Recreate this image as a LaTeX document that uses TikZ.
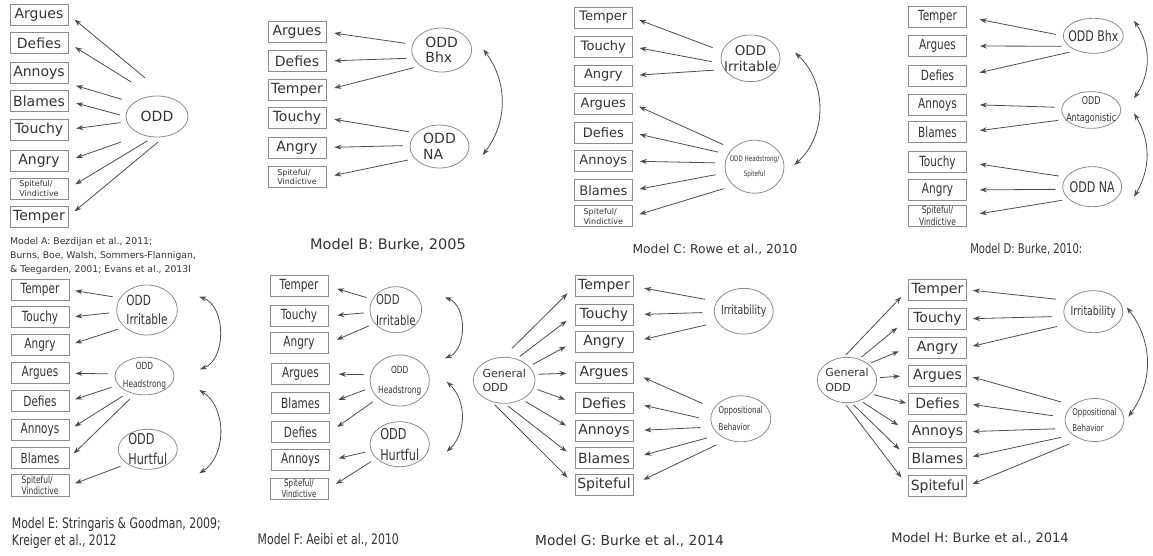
\documentclass[tikz,border=0pt]{standalone}
\usepackage{fontspec}
\setmainfont{DejaVu Sans}
\newfontfamily\condfont[FakeStretch=0.75]{DejaVu Sans}
\usepackage{xcolor}
\usepackage{tikz}
\usetikzlibrary{arrows.meta,shapes.geometric}

\definecolor{ln}{HTML}{4D4D4D}
\definecolor{edge}{HTML}{8C8C8C}
\definecolor{txt}{HTML}{333333}
\newcommand{\regsz}[2]{\fontsize{#1}{#2}\selectfont}
\newcommand{\condsz}[2]{\condfont\fontsize{#1}{#2}\selectfont}

\begin{document}
\begin{tikzpicture}[x=1pt,y=-1pt,>={Stealth[length=7pt,width=5pt]}]
\tikzstyle{box}=[draw=edge,line width=0.8pt,minimum width=58pt,minimum height=21pt,inner sep=1pt,text=txt]
\tikzstyle{fac}=[draw=edge,line width=0.8pt,ellipse,inner sep=-6pt,text=txt]
\tikzstyle{ld}=[->,draw=ln,line width=0.8pt]
\tikzstyle{cor}=[<->,draw=ln,line width=0.8pt]
\tikzstyle{capt}=[text=txt,inner sep=0pt]
\useasboundingbox (0,0) rectangle (1153,556);

% Model A
\begin{scope}[box/.append style={font=\regsz{14}{16}},ld/.append style={shorten >=8pt}]
\node[box] (aArgues) at (39,14.5) {Argues};
\node[box] (aDefies) at (39,43) {Defies};
\node[box] (aAnnoys) at (39,72.5) {Annoys};
\node[box] (aBlames) at (39,101) {Blames};
\node[box] (aTouchy) at (39,129.5) {Touchy};
\node[box] (aAngry) at (39,160.5) {Angry};
\node[box,align=left,font=\regsz{8}{9.5}] (aSpite) at (39,188.5) {Spiteful/\\Vindictive};
\node[box] (aTemper) at (39,216.5) {Temper};
\node[fac,minimum width=62pt,minimum height=41pt,font=\regsz{14}{16}] (aODD) at (157,116.5) {ODD};
\draw[ld,shorten <=30pt] (aODD.60) -- (aArgues.east);
\draw[ld,shorten <=26pt] (aODD.100) -- (aDefies.east);
\draw[ld,shorten <=12pt] (aODD.150) -- (aAnnoys.south east);
\draw[ld,shorten <=6pt] (aODD.180) -- (aBlames.east);
\draw[ld,shorten <=6pt] (aODD.190) -- (aTouchy.east);
\draw[ld,shorten <=22pt] (aODD.230) -- (aAngry.east);
\draw[ld,shorten <=7pt] (aODD.260) -- (aSpite.east);
\draw[ld,shorten <=8pt] (aODD.290) -- (aTemper.east);
\node[capt,anchor=west,align=left,font=\regsz{9.3}{14}] (capA) at (10,256) {Model A: Bezdijan et al., 2011;\\Burns, Boe, Walsh, Sommers-Flannigan,\\\& Teegarden, 2001; Evans et al., 2013l};
\end{scope}

% Model B
\begin{scope}[box/.append style={font=\regsz{14}{16}},ld/.append style={shorten <=7pt,shorten >=8pt}]
\node[box] (bArgues) at (297,32) {Argues};
\node[box] (bDefies) at (297,61) {Defies};
\node[box] (bTemper) at (297,90) {Temper};
\node[box] (bTouchy) at (297,118) {Touchy};
\node[box] (bAngry) at (297,147.5) {Angry};
\node[box,align=left,font=\regsz{8}{9.5}] (bSpite) at (297,177) {Spiteful/\\Vindictive};
\node[fac,minimum width=60pt,minimum height=44pt,align=left,font=\regsz{14}{15.6}] (bBhx) at (441.7,50) {ODD\\Bhx};
\node[fac,minimum width=59pt,minimum height=43pt,align=left,font=\regsz{14}{15.6}] (bNA) at (439.5,146.5) {ODD\\NA};
\draw[ld] (bBhx.169) -- (bArgues.east);
\draw[ld] (bBhx.196) -- (bDefies.east);
\draw[ld] (bBhx.217) -- (bTemper.east);
\draw[ld] (bNA.150) -- (bTouchy.east);
\draw[ld] (bNA.178) -- (bAngry.east);
\draw[ld] (bNA.206) -- (bSpite.east);
\coordinate (bTop) at (483.3,49.3);
\coordinate (bBot) at (482.7,155);
\draw[cor] (bTop) to[bend left=37] (bBot);
\node[capt,font=\regsz{14.5}{16}] (capB) at (388,245) {Model B: Burke, 2005};
\end{scope}

% Model C
\begin{scope}[box/.append style={font=\regsz{13}{15}},ld/.append style={shorten <=10pt,shorten >=7pt}]
\node[box] (cTemper) at (603.3,17.5) {Temper};
\node[box] (cTouchy) at (603.3,46.7) {Touchy};
\node[box] (cAngry) at (603.3,75.5) {Angry};
\node[box] (cArgues) at (603.3,103.7) {Argues};
\node[box] (cDefies) at (603.3,132.8) {Defies};
\node[box] (cAnnoys) at (603.3,161.2) {Annoys};
\node[box] (cBlames) at (603.3,190.3) {Blames};
\node[box,align=left,font=\regsz{8}{9.5}] (cSpite) at (603.3,216.3) {Spiteful/\\Vindictive};
\node[fac,minimum width=59pt,minimum height=46.7pt,align=center,font=\regsz{13.5}{15.7}] (cIrr) at (750.5,58.3) {ODD\\Irritable};
\node[fac,minimum width=59pt,minimum height=53pt,align=center,font=\condsz{7.5}{15}] (cHead) at (754.5,166.7) {ODD Headstrong/\\Spiteful};
\draw[ld] (cIrr.166) -- (cTemper.east);
\draw[ld] (cIrr.190) -- (cTouchy.east);
\draw[ld] (cIrr.203) -- (cAngry.east);
\draw[ld] (cHead.141) -- (cArgues.east);
\draw[ld] (cHead.155) -- (cDefies.east);
\draw[ld] (cHead.173) -- (cAnnoys.east);
\draw[ld] (cHead.192) -- (cBlames.east);
\draw[ld] (cHead.222) -- (cSpite.east);
\coordinate (cTop) at (795,52.7);
\coordinate (cBot) at (794.3,165);
\draw[cor] (cTop) to[bend left=48] (cBot);
\node[capt,font=\regsz{12.3}{14}] (capC) at (715,249.3) {Model C: Rowe et al., 2010};
\end{scope}

% Model D
\begin{scope}[box/.append style={font=\condsz{14}{16}},ld/.append style={shorten <=7pt,shorten >=13pt}]
\node[box] (dTemper) at (937.5,17) {Temper};
\node[box] (dArgues) at (937.5,46) {Argues};
\node[box] (dDefies) at (937.5,75.5) {Defies};
\node[box] (dAnnoys) at (937.5,104.5) {Annoys};
\node[box] (dBlames) at (937.5,132.2) {Blames};
\node[box] (dTouchy) at (937.5,162.2) {Touchy};
\node[box] (dAngry) at (937.5,190) {Angry};
\node[box,align=center,font=\condsz{10}{11.5}] (dSpite) at (937.5,215.8) {Spiteful/\\Vindictive};
\node[fac,minimum width=60pt,minimum height=35pt,font=\condsz{14.6}{16}] (dBhx) at (1093.3,35.8) {ODD Bhx};
\node[fac,minimum width=59pt,minimum height=36.7pt,align=center,font=\condsz{10.7}{16.7}] (dAnt) at (1091.2,110) {ODD\\Antagonistic};
\node[fac,minimum width=59pt,minimum height=40pt,font=\condsz{14.7}{16}] (dNA) at (1092.2,186.7) {ODD NA};
\draw[ld] (dBhx.180) -- (dTemper.east);
\draw[ld] (dBhx.203) -- (dArgues.east);
\draw[ld] (dBhx.221) -- (dDefies.east);
\draw[ld] (dAnt.175) -- (dAnnoys.east);
\draw[ld] (dAnt.200) -- (dBlames.east);
\draw[ld] (dNA.160) -- (dTouchy.east);
\draw[ld] (dNA.185) -- (dAngry.east);
\draw[ld] (dNA.208) -- (dSpite.east);
\coordinate (dTop) at (1134,20.7);
\coordinate (dMidA) at (1134,98.3);
\coordinate (dMidB) at (1134,113.3);
\coordinate (dBot) at (1134,196.7);
\draw[cor] (dTop) to[bend left=34] (dMidA);
\draw[cor] (dMidB) to[bend left=31] (dBot);
\node[capt,font=\condsz{13.4}{15}] (capD) at (1026.3,249.3) {Model D: Burke, 2010:};
\end{scope}

% Model E
\begin{scope}[box/.append style={font=\condsz{14}{16}},ld/.append style={shorten <=7pt,shorten >=6pt}]
\node[box] (eTemper) at (40,289.7) {Temper};
\node[box] (eTouchy) at (40,317.3) {Touchy};
\node[box] (eAngry) at (40,345) {Angry};
\node[box] (eArgues) at (40,373.3) {Argues};
\node[box] (eDefies) at (40,401.2) {Defies};
\node[box] (eAnnoys) at (40,429.7) {Annoys};
\node[box] (eBlames) at (40,457.8) {Blames};
\node[box,align=left,font=\condsz{10}{11.5}] (eSpite) at (40,485.5) {Spiteful/\\Vindictive};
\node[fac,minimum width=60.7pt,minimum height=50pt,align=left,font=\condsz{14}{19}] (eIrr) at (147,310) {ODD\\Irritable};
\node[fac,minimum width=59pt,minimum height=37.7pt,align=center,font=\condsz{9.9}{17.7}] (eHead) at (144.5,376) {ODD\\Headstrong};
\node[fac,minimum width=59pt,minimum height=40pt,align=left,font=\condsz{15}{20}] (eHurt) at (147.8,449.3) {ODD\\Hurtful};
\draw[ld] (eIrr.156) -- (eTemper.east);
\draw[ld] (eIrr.184) -- (eTouchy.east);
\draw[ld] (eIrr.217) -- (eAngry.east);
\draw[ld] (eHead.176) -- (eArgues.east);
\draw[ld] (eHead.199) -- (eDefies.east);
\draw[ld] (eHead.226) -- (eAnnoys.east);
\draw[ld] (eHead.242) -- (eBlames.east);
\draw[ld] (eHurt.215) -- (eSpite.east);
\coordinate (eTop) at (199.3,296.7);
\coordinate (eMidA) at (200,369.3);
\coordinate (eMidB) at (199.3,390);
\coordinate (eBot) at (199.3,473.3);
\draw[cor] (eTop) to[bend left=70] (eMidA);
\draw[cor] (eMidB) to[bend left=58] (eBot);
\node[capt,anchor=west,align=left,font=\condsz{14.5}{16.7}] (capE) at (11.7,533.3) {Model E: Stringaris \& Goodman, 2009;\\Kreiger et al., 2012};
\end{scope}

% Model F
\begin{scope}[box/.append style={font=\condsz{14}{16}},ld/.append style={shorten <=6pt,shorten >=9pt}]
\node[box] (fTemper) at (299,286.3) {Temper};
\node[box] (fTouchy) at (299,316) {Touchy};
\node[box] (fAngry) at (299,343.3) {Angry};
\node[box] (fArgues) at (300.5,374) {Argues};
\node[box] (fBlames) at (300.5,403) {Blames};
\node[box] (fDefies) at (300.5,432.2) {Defies};
\node[box] (fAnnoys) at (300.5,460.3) {Annoys};
\node[box,align=center,font=\condsz{9.5}{11}] (fSpite) at (299,488.8) {Spiteful/\\Vindictive};
\node[fac,minimum width=51.7pt,minimum height=46pt,align=left,font=\condsz{13.5}{21}] (fIrr) at (395.8,309.7) {ODD\\Irritable};
\node[fac,minimum width=59.3pt,minimum height=51pt,align=center,font=\condsz{9.9}{20}] (fHead) at (399.7,380.5) {ODD\\Headstrong};
\node[fac,minimum width=59.3pt,minimum height=45pt,align=left,font=\condsz{15}{21}] (fHurt) at (399.7,444.2) {ODD\\Hurtful};
\draw[ld] (fIrr.156) -- (fTemper.east);
\draw[ld] (fIrr.186) -- (fTouchy.east);
\draw[ld] (fIrr.213) -- (fAngry.east);
\draw[ld] (fHead.169) -- (fArgues.east);
\draw[ld] (fHead.194) -- (fBlames.east);
\draw[ld] (fHead.219) -- (fDefies.east);
\draw[ld] (fHurt.193) -- (fAnnoys.east);
\draw[ld] (fHurt.211) -- (fSpite.east);
\coordinate (fTop) at (445,297.3);
\coordinate (fMidA) at (445,358.3);
\coordinate (fMidB) at (446.7,381.7);
\coordinate (fBot) at (446.7,451.7);
\draw[cor] (fTop) to[bend left=68] (fMidA);
\draw[cor] (fMidB) to[bend left=47] (fBot);
\node[capt,font=\condsz{14.5}{16}] (capF) at (328.3,540) {Model F: Aeibi et al., 2010};
\end{scope}

% Model G
\begin{scope}[box/.append style={font=\regsz{14}{16}},ld/.append style={shorten <=12pt,shorten >=11pt}]
\node[box] (gTemper) at (604,286.3) {Temper};
\node[box] (gTouchy) at (604,314.7) {Touchy};
\node[box] (gAngry) at (604,341.7) {Angry};
\node[box] (gArgues) at (604,373) {Argues};
\node[box] (gDefies) at (604,403) {Defies};
\node[box] (gAnnoys) at (604,430.7) {Annoys};
\node[box] (gBlames) at (604,457.8) {Blames};
\node[box] (gSpite) at (604,484.5) {Spiteful};
\node[fac,minimum width=59pt,minimum height=45.7pt,font=\condsz{12.5}{14}] (gIrr) at (743.7,311.2) {Irritability};
\node[fac,minimum width=60pt,minimum height=46pt,align=left,font=\condsz{9.4}{16.7}] (gOpp) at (740.8,418.8) {Oppositional\\Behavior};
\node[fac,minimum width=61.7pt,minimum height=46pt,align=left,font=\regsz{11}{14.3}] (gGen) at (504.2,380.3) {General\\ODD};
\draw[ld] (gIrr.160) -- (gTemper.east);
\draw[ld] (gIrr.182) -- (gTouchy.east);
\draw[ld] (gIrr.203) -- (gAngry.east);
\draw[ld] (gOpp.159) -- (gArgues.east);
\draw[ld] (gOpp.183) -- (gDefies.east);
\draw[ld] (gOpp.196) -- (gAnnoys.east);
\draw[ld] (gOpp.216) -- (gBlames.east);
\draw[ld] (gOpp.237) -- (gSpite.east);
\draw[ld,shorten <=12pt,shorten >=10pt] (gGen.92) -- (gTemper.west);
\draw[ld,shorten <=4pt,shorten >=10pt] (gGen.60) -- (gTouchy.west);
\draw[ld,shorten <=4pt,shorten >=10pt] (gGen.29) -- (gAngry.west);
\draw[ld,shorten <=4pt,shorten >=8pt] (gGen.11) -- (gArgues.west);
\draw[ld,shorten <=4pt,shorten >=10pt] (gGen.345) -- (gDefies.west);
\draw[ld,shorten <=4pt,shorten >=10pt] (gGen.313) -- (gAnnoys.west);
\draw[ld,shorten <=4pt,shorten >=10pt] (gGen.272) -- (gBlames.west);
\draw[ld,shorten <=4pt,shorten >=10pt] (gGen.240) -- (gSpite.west);
\node[capt,font=\regsz{13.8}{16}] (capG) at (629.5,541) {Model G: Burke et al., 2014};
\end{scope}

% Model H
\begin{scope}[box/.append style={font=\regsz{14}{16}},ld/.append style={shorten <=12pt,shorten >=6pt}]
\node[box] (hTemper) at (937.5,289.7) {Temper};
\node[box] (hTouchy) at (937.5,318.8) {Touchy};
\node[box] (hAngry) at (937.5,347.5) {Angry};
\node[box] (hArgues) at (937.5,375.5) {Argues};
\node[box] (hDefies) at (937.5,403.7) {Defies};
\node[box] (hAnnoys) at (937.5,431.7) {Annoys};
\node[box] (hBlames) at (937.5,457.8) {Blames};
\node[box] (hSpite) at (937.5,486.3) {Spiteful};
\node[fac,minimum width=59pt,minimum height=42pt,font=\condsz{12.5}{14}] (hIrr) at (1093.3,311.7) {Irritability};
\node[fac,minimum width=59pt,minimum height=43pt,align=left,font=\condsz{9.4}{16.7}] (hOpp) at (1094.5,420) {Oppositional\\Behavior};
\node[fac,minimum width=59.3pt,minimum height=45.3pt,align=left,font=\regsz{11}{14.3}] (hGen) at (847,380) {General\\ODD};
\draw[ld] (hIrr.156) -- (hTemper.east);
\draw[ld] (hIrr.189) -- (hTouchy.east);
\draw[ld] (hIrr.206) -- (hAngry.east);
\draw[ld] (hOpp.146) -- (hArgues.east);
\draw[ld] (hOpp.175) -- (hDefies.east);
\draw[ld] (hOpp.197) -- (hAnnoys.east);
\draw[ld] (hOpp.214) -- (hBlames.east);
\draw[ld] (hOpp.234) -- (hSpite.east);
\draw[ld,shorten <=3pt,shorten >=10pt] (hGen.98) -- (hTemper.west);
\draw[ld,shorten <=3pt,shorten >=14pt] (hGen.60) -- (hTouchy.west);
\draw[ld,shorten <=3pt,shorten >=10pt] (hGen.37) -- (hAngry.west);
\draw[ld,shorten <=3pt,shorten >=8pt] (hGen.4) -- (hArgues.west);
\draw[ld,shorten <=3pt,shorten >=2pt] (hGen.330) -- (hDefies.west);
\draw[ld,shorten <=3pt,shorten >=12pt] (hGen.303) -- (hAnnoys.west);
\draw[ld,shorten <=3pt,shorten >=12pt] (hGen.281) -- (hBlames.west);
\draw[ld,shorten <=3pt,shorten >=11pt] (hGen.264) -- (hSpite.west);
\coordinate (hTop) at (1126.7,307.3);
\coordinate (hBot) at (1128.3,416.7);
\draw[cor] (hTop) to[bend left=37] (hBot);
\node[capt,font=\regsz{13}{15}] (capH) at (980,538.3) {Model H: Burke et al., 2014};
\end{scope}
\end{tikzpicture}
\end{document}
